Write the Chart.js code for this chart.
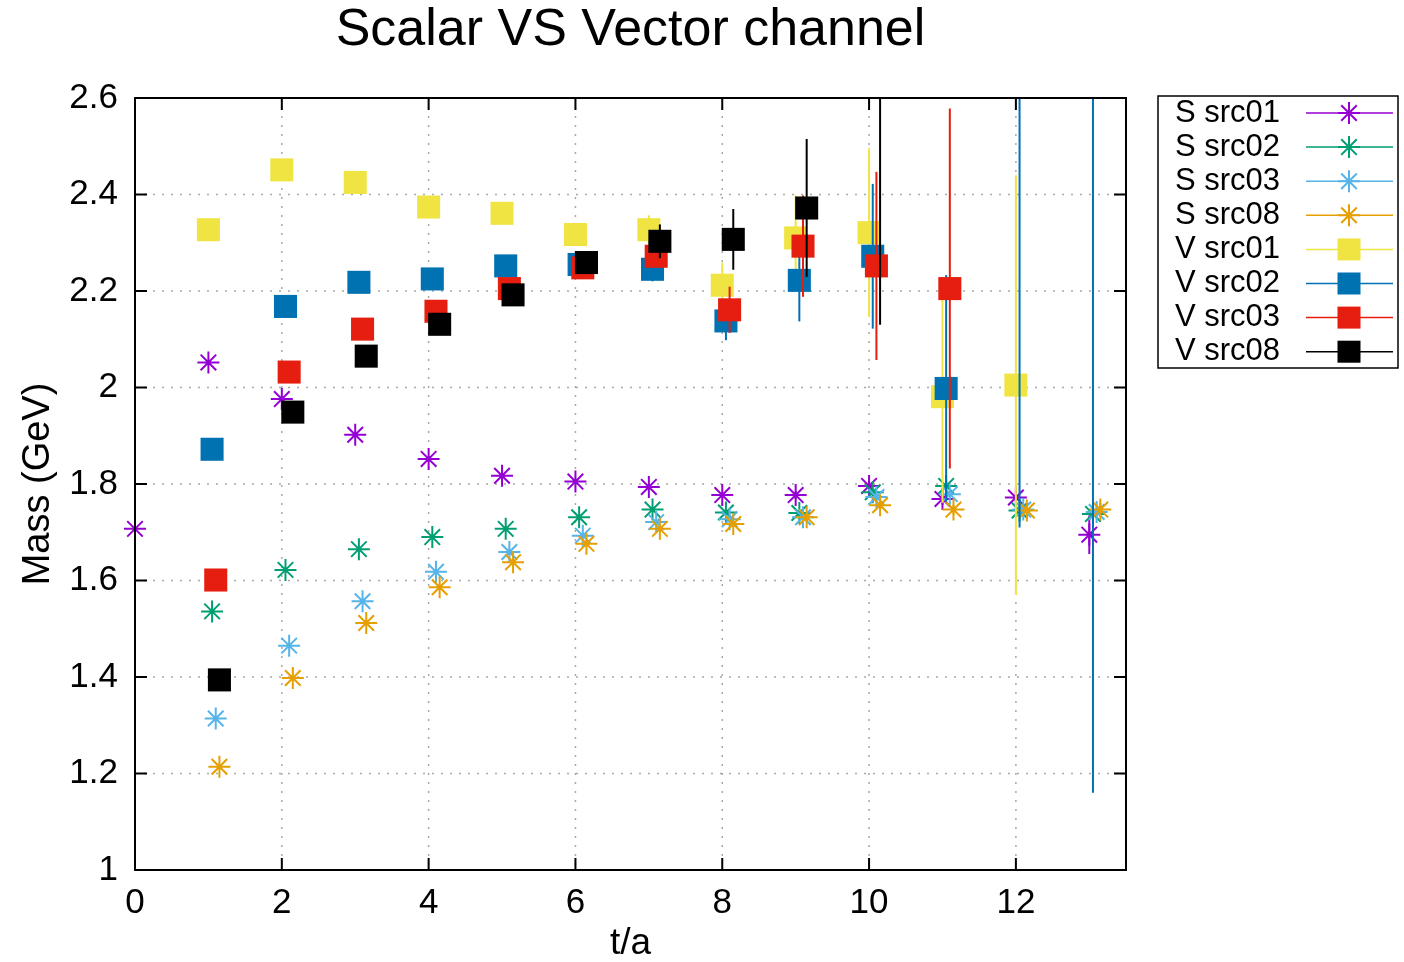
<!DOCTYPE html>
<html>
<head>
<meta charset="utf-8">
<script src="https://cdn.jsdelivr.net/npm/chart.js@4/dist/chart.umd.min.js"></script>
<style>
  body { margin: 0; background: #fff; }
  #wrap { width: 1404px; height: 962px; }
</style>
</head>
<body>
<div id="wrap"><canvas id="myChart" width="1404" height="962"></canvas></div>
<script>
// ---- data ----
const xTicks = [0, 2, 4, 6, 8, 10, 12];
const yTicks = [1, 1.2, 1.4, 1.6, 1.8, 2, 2.2, 2.4, 2.6];

const labels = ['S src01', 'S src02', 'S src03', 'S src08', 'V src01', 'V src02', 'V src03', 'V src08'];
const colors = ['#9400d3', '#009e73', '#56b4e9', '#e69f00', '#f0e442', '#0072b2', '#e51e10', '#000000'];

// t/a of each point (the sources are shifted a little in t)
const tS01 = [0, 1, 2, 3, 4, 5, 6, 7, 8, 9, 10, 11, 12, 13];
const tS02 = [1.05, 2.05, 3.05, 4.05, 5.05, 6.05, 7.05, 8.05, 9.05, 10.05, 11.05, 12.05, 13.05];
const tS03 = [1.1, 2.1, 3.1, 4.1, 5.1, 6.1, 7.1, 8.1, 9.1, 10.1, 11.1, 12.1, 13.1];
const tS08 = [1.15, 2.15, 3.15, 4.15, 5.15, 6.15, 7.15, 8.15, 9.15, 10.15, 11.15, 12.15, 13.15];
const tV01 = [1, 2, 3, 4, 5, 6, 7, 8, 9, 10, 11, 12];
const tV02 = [1.05, 2.05, 3.05, 4.05, 5.05, 6.05, 7.05, 8.05, 9.05, 10.05, 11.05, 12.05, 13.05];
const tV03 = [1.1, 2.1, 3.1, 4.1, 5.1, 6.1, 7.1, 8.1, 9.1, 10.1, 11.1];
const tV08 = [1.15, 2.15, 3.15, 4.15, 5.15, 6.15, 7.15, 8.15, 9.15, 10.15];

// mass (GeV)
const mS01 = [1.707, 2.052, 1.976, 1.902, 1.852, 1.817, 1.805, 1.794, 1.777, 1.777, 1.796, 1.769, 1.772, 1.695];
const mS02 = [1.536, 1.622, 1.665, 1.690, 1.707, 1.731, 1.747, 1.741, 1.740, 1.783, 1.796, 1.745, 1.738];
const mS03 = [1.314, 1.465, 1.557, 1.618, 1.659, 1.693, 1.721, 1.727, 1.731, 1.773, 1.779, 1.747, 1.742];
const mS08 = [1.214, 1.398, 1.512, 1.586, 1.638, 1.676, 1.707, 1.717, 1.731, 1.756, 1.747, 1.745, 1.747];
const mV01 = [2.327, 2.451, 2.425, 2.374, 2.361, 2.317, 2.327, 2.212, 2.310, 2.321, 1.981, 2.005];
const mV02 = [1.872, 2.168, 2.218, 2.225, 2.252, 2.255, 2.245, 2.138, 2.222, 2.272, 1.998, 2.75, 2.9];
const mV03 = [1.601, 2.032, 2.121, 2.158, 2.205, 2.248, 2.272, 2.161, 2.293, 2.252, 2.205];
const mV08 = [1.394, 1.949, 2.065, 2.131, 2.192, 2.259, 2.303, 2.307, 2.372, 2.86];

// errors
const eS01 = [0.005, 0.005, 0.005, 0.005, 0.005, 0.005, 0.005, 0.005, 0.005, 0.008, 0.01, 0.012, 0.015, 0.04];
const eS02 = [0.004, 0.004, 0.004, 0.004, 0.004, 0.004, 0.005, 0.005, 0.006, 0.008, 0.01, 0.012, 0.015];
const eS03 = [0.004, 0.004, 0.004, 0.004, 0.004, 0.004, 0.005, 0.005, 0.006, 0.008, 0.01, 0.012, 0.015];
const eS08 = [0.004, 0.004, 0.004, 0.004, 0.004, 0.004, 0.005, 0.005, 0.006, 0.008, 0.01, 0.012, 0.015];
const eV01 = [0.005, 0.005, 0.005, 0.01, 0.01, 0.01, 0.03, 0.047, 0.088, 0.175, 0.22, 0.435];
const eV02 = [0.005, 0.005, 0.005, 0.01, 0.01, 0.015, 0.025, 0.04, 0.085, 0.15, 0.235, 1.04, 1.74];
const eV03 = [0.005, 0.005, 0.005, 0.01, 0.01, 0.015, 0.02, 0.048, 0.105, 0.195, 0.373];
const eV08 = [0.005, 0.005, 0.005, 0.01, 0.01, 0.015, 0.035, 0.063, 0.143, 0.73];

const tAll = [tS01, tS02, tS03, tS08, tV01, tV02, tV03, tV08];
const mAll = [mS01, mS02, mS03, mS08, mV01, mV02, mV03, mV08];
const eAll = [eS01, eS02, eS03, eS08, eV01, eV02, eV03, eV08];

const FONT = '"Liberation Sans", Arial, Helvetica, sans-serif';

function isScalar(i) { return i < 4; }

const datasets = labels.map((label, i) => ({
  label: label,
  data: tAll[i].map((t, k) => ({ x: t, y: mAll[i][k] })),
  err: eAll[i],
  showLine: false,
  clip: 14,
  pointStyle: isScalar(i) ? 'star' : 'rect',
  pointRadius: isScalar(i) ? 11 : 16.3,
  pointBorderWidth: isScalar(i) ? 2 : 0,
  pointBorderColor: colors[i],
  pointBackgroundColor: colors[i],
  borderColor: colors[i],
  backgroundColor: colors[i],
  order: labels.length - i, // later series on top, like gnuplot
}));

// grid, frame and inward ticks
const framePlugin = {
  id: 'frame',
  beforeDatasetsDraw(chart) {
    const { ctx, chartArea: a, scales } = chart;
    ctx.save();
    ctx.strokeStyle = '#a8a8a8';
    ctx.lineWidth = 1.5;
    ctx.setLineDash([2, 7]);
    xTicks.forEach((v) => {
      const x = scales.x.getPixelForValue(v);
      if (x <= a.left + 1 || x >= a.right - 1) return;
      ctx.beginPath(); ctx.moveTo(x, a.top); ctx.lineTo(x, a.bottom); ctx.stroke();
    });
    yTicks.forEach((v) => {
      const y = scales.y.getPixelForValue(v);
      if (y <= a.top + 1 || y >= a.bottom - 1) return;
      ctx.beginPath(); ctx.moveTo(a.left, y); ctx.lineTo(a.right, y); ctx.stroke();
    });
    ctx.restore();
  },
  afterDatasetsDraw(chart) {
    const { ctx, chartArea: a, scales } = chart;
    const tl = 12;
    ctx.save();
    ctx.strokeStyle = '#000';
    ctx.lineWidth = 2;
    ctx.setLineDash([]);
    ctx.strokeRect(a.left, a.top, a.right - a.left, a.bottom - a.top);
    ctx.beginPath();
    xTicks.forEach((v) => {
      const x = scales.x.getPixelForValue(v);
      ctx.moveTo(x, a.bottom); ctx.lineTo(x, a.bottom - tl);
      ctx.moveTo(x, a.top); ctx.lineTo(x, a.top + tl);
    });
    yTicks.forEach((v) => {
      const y = scales.y.getPixelForValue(v);
      ctx.moveTo(a.left, y); ctx.lineTo(a.left + tl, y);
      ctx.moveTo(a.right, y); ctx.lineTo(a.right - tl, y);
    });
    ctx.stroke();
    ctx.restore();
  },
};

// vertical error bars, drawn under each series' markers
const errorBarPlugin = {
  id: 'errorBars',
  beforeDatasetDraw(chart, args) {
    const ds = chart.data.datasets[args.index];
    if (!ds.err) return;
    const { ctx, chartArea: a, scales } = chart;
    ctx.save();
    ctx.beginPath();
    ctx.rect(a.left, a.top, a.right - a.left, a.bottom - a.top);
    ctx.clip();
    ctx.strokeStyle = ds.borderColor;
    ctx.lineWidth = 2;
    ds.data.forEach((p, k) => {
      const e = ds.err[k];
      const x = scales.x.getPixelForValue(p.x);
      const y1 = scales.y.getPixelForValue(p.y - e);
      const y2 = scales.y.getPixelForValue(p.y + e);
      ctx.beginPath(); ctx.moveTo(x, y1); ctx.lineTo(x, y2); ctx.stroke();
    });
    ctx.restore();
  },
};

// gnuplot style key box on the right
const keyPlugin = {
  id: 'key',
  afterDraw(chart) {
    const ctx = chart.ctx;
    const box = { left: 1158, top: 96, right: 1398, bottom: 368 };
    ctx.save();
    ctx.strokeStyle = '#000';
    ctx.lineWidth = 1.5;
    ctx.strokeRect(box.left, box.top, box.right - box.left, box.bottom - box.top);
    ctx.font = '31px ' + FONT;
    ctx.textBaseline = 'middle';
    ctx.textAlign = 'left';
    chart.data.datasets.forEach((ds, i) => {
      const y = 113 + i * 34.1;
      ctx.fillStyle = '#000';
      ctx.fillText(ds.label, 1175, y);
      ctx.strokeStyle = colors[i];
      ctx.lineWidth = 1.5;
      ctx.beginPath(); ctx.moveTo(1306, y); ctx.lineTo(1393, y); ctx.stroke();
      const cx = 1349;
      if (isScalar(i)) {
        const r = 11, d = r * Math.SQRT1_2;
        ctx.lineWidth = 2;
        ctx.beginPath();
        ctx.moveTo(cx, y - r); ctx.lineTo(cx, y + r);
        ctx.moveTo(cx - r, y); ctx.lineTo(cx + r, y);
        ctx.moveTo(cx - d, y - d); ctx.lineTo(cx + d, y + d);
        ctx.moveTo(cx - d, y + d); ctx.lineTo(cx + d, y - d);
        ctx.stroke();
      } else {
        ctx.fillStyle = colors[i];
        ctx.fillRect(cx - 11.5, y - 11, 23, 22);
      }
    });
    ctx.restore();
  },
};

const ctx = document.getElementById('myChart');

new Chart(ctx, {
  type: 'scatter',
  data: { datasets: datasets },
  plugins: [framePlugin, errorBarPlugin, keyPlugin],
  options: {
    responsive: false,
    animation: false,
    events: [],
    layout: { padding: { left: 0, right: 278, top: 0, bottom: 0 } },
    plugins: {
      legend: { display: false },
      tooltip: { enabled: false },
      title: {
        display: true,
        text: 'Scalar VS Vector channel',
        color: '#000',
        fullSize: false,
        font: { family: FONT, size: 52, weight: 'normal', lineHeight: 1 },
        padding: { top: 5, bottom: 41 },
      },
    },
    scales: {
      x: {
        type: 'linear',
        min: 0,
        max: 13.5,
        afterBuildTicks: (s) => { s.ticks = xTicks.map((v) => ({ value: v })); },
        afterFit: (s) => { s.height = 92; },
        grid: { display: false, drawTicks: false },
        border: { display: false },
        ticks: {
          color: '#000',
          padding: 12,
          maxRotation: 0,
          font: { family: FONT, size: 35 },
          callback: (v) => String(v),
        },
        title: {
          display: true,
          text: 't/a',
          color: '#000',
          font: { family: FONT, size: 37, lineHeight: 1 },
          padding: { top: 0, bottom: 0 },
        },
      },
      y: {
        type: 'linear',
        min: 1,
        max: 2.6,
        afterBuildTicks: (s) => { s.ticks = yTicks.map((v) => ({ value: v })); },
        afterFit: (s) => { s.width = 135; },
        grid: { display: false, drawTicks: false },
        border: { display: false },
        ticks: {
          color: '#000',
          padding: 17,
          font: { family: FONT, size: 35 },
          callback: (v) => String(Math.round(v * 10) / 10),
        },
        title: {
          display: true,
          text: 'Mass (GeV)',
          color: '#000',
          font: { family: FONT, size: 38, lineHeight: 1.2 },
          padding: { top: 16, bottom: 0 },
        },
      },
    },
  },
});
</script>
</body>
</html>
